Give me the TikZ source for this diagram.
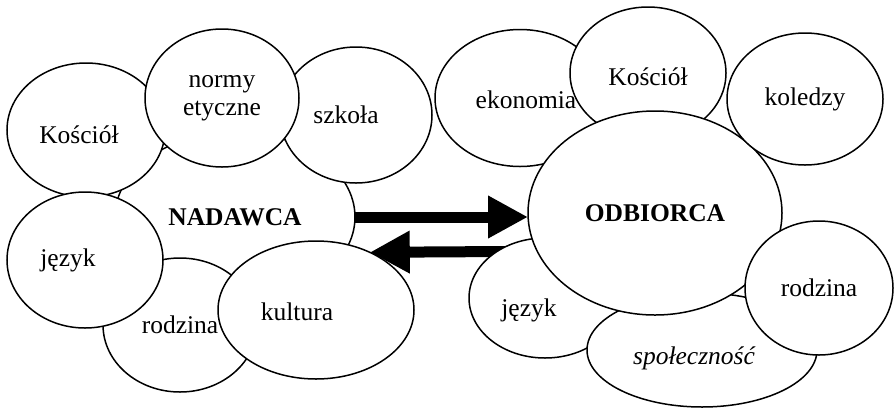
\documentclass[tikz,border=0pt]{standalone}
\usepackage{fontspec}
\setmainfont{Liberation Serif}
\usetikzlibrary{arrows.meta,shapes.geometric,backgrounds}

\begin{document}
\begin{tikzpicture}[
  x=1pt, y=-1pt,
  font=\fontsize{25.5}{28}\selectfont,
  bub/.style={draw, ellipse, fill=white, line width=1.5pt, inner sep=0pt, outer sep=0pt, align=center},
  arr/.style={-{Triangle[length=40pt, width=40pt]}, line width=11pt}
]
\useasboundingbox (0,0) rectangle (894,408);
% sender side
\node[bub, minimum width=240pt, minimum height=170pt] (nadawca) at (235,217) {\textbf{NADAWCA}};
\node[bub, minimum width=158pt, minimum height=134pt, label={[xshift=-7pt, yshift=-5pt]center:Kościół}] (kosciolL) at (86,130) {};
\node[bub, minimum width=152pt, minimum height=136pt, label={[xshift=-10pt]center:szkoła}] (szkola) at (356,115) {};
\node[bub, minimum width=154pt, minimum height=138pt] (normy) at (222,98) {normy\\etyczne};
\node[bub, minimum width=154pt, minimum height=134pt] (rodzinaL) at (180,325) {rodzina};
\node[bub, minimum width=156pt, minimum height=136pt, label={[xshift=-17pt]center:język}] (jezykL) at (85,260) {};
\node[bub, minimum width=196pt, minimum height=138pt, label={[xshift=-19pt, yshift=-2pt]center:kultura}] (kultura) at (316,310) {};
% receiver side
\node[bub, minimum width=170pt, minimum height=137pt, label={[xshift=6pt, yshift=-2pt]center:ekonomia}] (ekonomia) at (520,98) {};
\node[bub, minimum width=156pt, minimum height=132pt, label={[yshift=-4pt]center:Kościół}] (kosciolR) at (648,73) {};
\node[bub, minimum width=152pt, minimum height=120pt, label={[xshift=-16pt, yshift=-12pt]center:język}] (jezykR) at (545,298) {};
\node[bub, minimum width=230pt, minimum height=114pt, label={[xshift=-8pt, yshift=-8pt]center:\itshape społeczność}] (spolecznosc) at (702,350) {};
\node[bub, minimum width=254pt, minimum height=204pt] (odbiorca) at (655,213) {\textbf{ODBIORCA}};
\node[bub, minimum width=156pt, minimum height=132pt] (koledzy) at (805,99) {koledzy};
\node[bub, minimum width=148pt, minimum height=134pt] (rodzinaR) at (819,288) {rodzina};
% arrows
\begin{scope}[on background layer]
\draw[arr] (nadawca.east) -- (odbiorca.west |- nadawca.east);
\draw[arr, shorten <=-12pt] (jezykR.136.7) -- (kultura.47.5);
\end{scope}
\end{tikzpicture}
\end{document}
